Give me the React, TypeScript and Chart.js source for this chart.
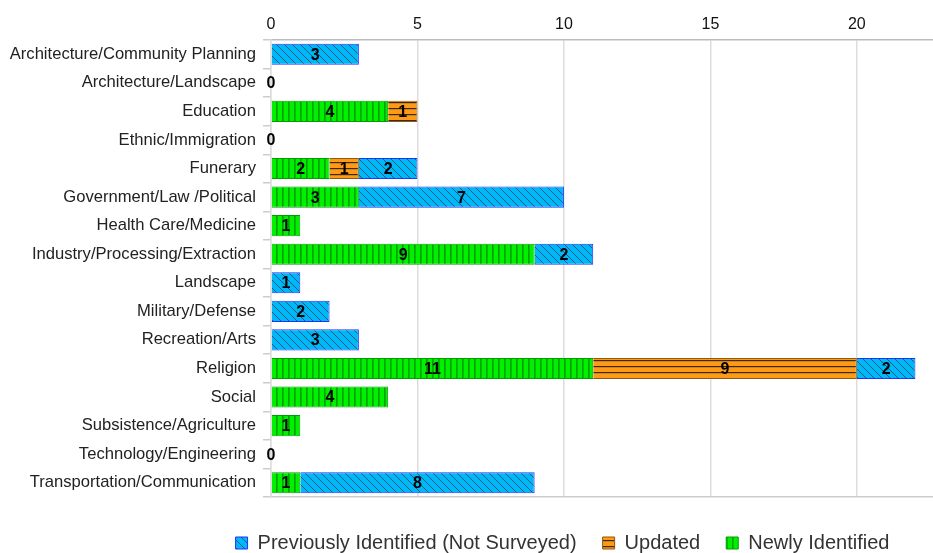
import React, { useEffect, useRef } from "react";
import { Chart, registerables } from "chart.js";

Chart.register(...registerables);

const categories = [
  "Architecture/Community Planning",
  "Architecture/Landscape",
  "Education",
  "Ethnic/Immigration",
  "Funerary",
  "Government/Law /Political",
  "Health Care/Medicine",
  "Industry/Processing/Extraction",
  "Landscape",
  "Military/Defense",
  "Recreation/Arts",
  "Religion",
  "Social",
  "Subsistence/Agriculture",
  "Technology/Engineering",
  "Transportation/Communication",
];

const newlyIdentified = [0, 0, 4, 0, 2, 3, 1, 9, 0, 0, 0, 11, 4, 1, 0, 1];
const updated = [0, 0, 1, 0, 1, 0, 0, 0, 0, 0, 0, 9, 0, 0, 0, 0];
const previouslyIdentified = [3, 0, 0, 0, 2, 7, 0, 2, 1, 2, 3, 2, 0, 0, 0, 8];

const xTicks = [0, 5, 10, 15, 20];
const xMax = 22.6;

function makePattern(kind: "green" | "orange" | "blue"): CanvasPattern | string {
  const c = document.createElement("canvas");
  const size = kind === "blue" ? 8 : 6;
  c.width = size;
  c.height = size;
  const g = c.getContext("2d");
  if (!g) return "#888";
  if (kind === "green") {
    g.fillStyle = "#00f000";
    g.fillRect(0, 0, size, size);
    g.fillStyle = "#00a000";
    g.fillRect(0, 0, 1.6, size);
  } else if (kind === "orange") {
    g.fillStyle = "#ff9a16";
    g.fillRect(0, 0, size, size);
    g.fillStyle = "#3a2a10";
    g.fillRect(0, 0, size, 1.2);
  } else {
    g.fillStyle = "#00b8f8";
    g.fillRect(0, 0, size, size);
    g.strokeStyle = "#1a5a80";
    g.lineWidth = 1;
    g.beginPath();
    g.moveTo(-1, -1);
    g.lineTo(size + 1, size + 1);
    g.moveTo(-1 - size, -1);
    g.lineTo(1, size + 1);
    g.moveTo(size - 1, -1);
    g.lineTo(2 * size + 1, size + 1);
    g.stroke();
  }
  const p = g.createPattern(c, "repeat");
  return p || "#888";
}

const valueLabels = {
  id: "valueLabels",
  afterDatasetsDraw(chart: any) {
    const ctx = chart.ctx;
    ctx.save();
    ctx.font = "bold 16px 'Liberation Sans', Arial, sans-serif";
    ctx.fillStyle = "#000";
    ctx.textAlign = "center";
    ctx.textBaseline = "middle";
    chart.data.datasets.forEach((ds: any, di: number) => {
      const meta = chart.getDatasetMeta(di);
      meta.data.forEach((el: any, i: number) => {
        const v = ds.data[i];
        if (v > 0) {
          ctx.fillText(String(v), (el.x + el.base) / 2, el.y + 1);
        }
      });
    });
    const xs = chart.scales.x;
    const ys = chart.scales.y;
    categories.forEach((_, i) => {
      const total = newlyIdentified[i] + updated[i] + previouslyIdentified[i];
      if (total === 0) {
        ctx.fillText("0", xs.getPixelForValue(0), ys.getPixelForValue(i) + 1);
      }
    });
    ctx.restore();
  },
};

const legendShift = {
  id: "legendShift",
  afterLayout(chart: any) {
    const lg = chart.legend;
    if (lg) {
      lg.left += 96;
      lg.right += 96;
      lg.top += 10;
      lg.bottom += 10;
    }
  },
};

export default function App() {
  const ref = useRef<HTMLCanvasElement | null>(null);

  useEffect(() => {
    document.body.style.margin = "0";
    if (!ref.current) return;
    const green = makePattern("green");
    const orange = makePattern("orange");
    const blue = makePattern("blue");
    const chart = new Chart(ref.current, {
      type: "bar",
      data: {
        labels: categories,
        datasets: [
          {
            label: "Newly Identified",
            data: newlyIdentified,
            backgroundColor: green as any,
            borderColor: "#00a000",
            borderWidth: 1,
          },
          {
            label: "Updated",
            data: updated,
            backgroundColor: orange as any,
            borderColor: "#8a5a10",
            borderWidth: 1,
          },
          {
            label: "Previously Identified (Not Surveyed)",
            data: previouslyIdentified,
            backgroundColor: blue as any,
            borderColor: "#2030ff",
            borderWidth: 1,
          },
        ],
      },
      options: {
        indexAxis: "y",
        animation: false,
        responsive: true,
        maintainAspectRatio: false,
        layout: { padding: 0 },
        datasets: { bar: { barPercentage: 0.74, categoryPercentage: 1 } },
        scales: {
          x: {
            position: "top",
            stacked: true,
            min: 0,
            max: xMax,
            afterBuildTicks(scale: any) {
              scale.ticks = xTicks.map((v) => ({ value: v }));
            },
            afterFit(scale: any) {
              scale.height = 40;
            },
            ticks: {
              color: "#111",
              font: { family: "'Liberation Sans', Arial, sans-serif", size: 16 },
              padding: 6,
            },
            grid: { color: "#dddddd", lineWidth: 1.5, drawTicks: false },
            border: { display: true, color: "#bbbbbb", width: 1.5 },
          },
          x2: {
            position: "bottom",
            display: true,
            min: 0,
            max: 1,
            ticks: { display: false },
            grid: { display: false, drawTicks: false },
            border: { display: true, color: "#cccccc", width: 1.5 },
            afterFit(scale: any) {
              scale.height = 0;
            },
          },
          y: {
            stacked: true,
            afterFit(scale: any) {
              scale.width = 271;
            },
            ticks: {
              color: "#222",
              font: { family: "'Liberation Sans', Arial, sans-serif", size: 16.6 },
              padding: 7,
              autoSkip: false,
            },
            grid: {
              drawOnChartArea: false,
              drawTicks: true,
              tickLength: 8,
              color: "#cccccc",
              lineWidth: 1.5,
              offset: true,
            },
            border: { display: true, color: "#dddddd", width: 1.5 },
          },
        },
        plugins: {
          tooltip: { enabled: false },
          legend: {
            position: "bottom",
            reverse: true,
            labels: {
              boxWidth: 12,
              boxHeight: 12,
              color: "#333",
              font: { family: "'Liberation Sans', Arial, sans-serif", size: 20 },
              padding: 26,
            },
          },
        },
      },
      plugins: [valueLabels, legendShift],
    });
    return () => chart.destroy();
  }, []);

  return (
    <div style={{ position: "absolute", left: 0, top: 0, width: 933, height: 553 }}>
      <canvas ref={ref} />
    </div>
  );
}
